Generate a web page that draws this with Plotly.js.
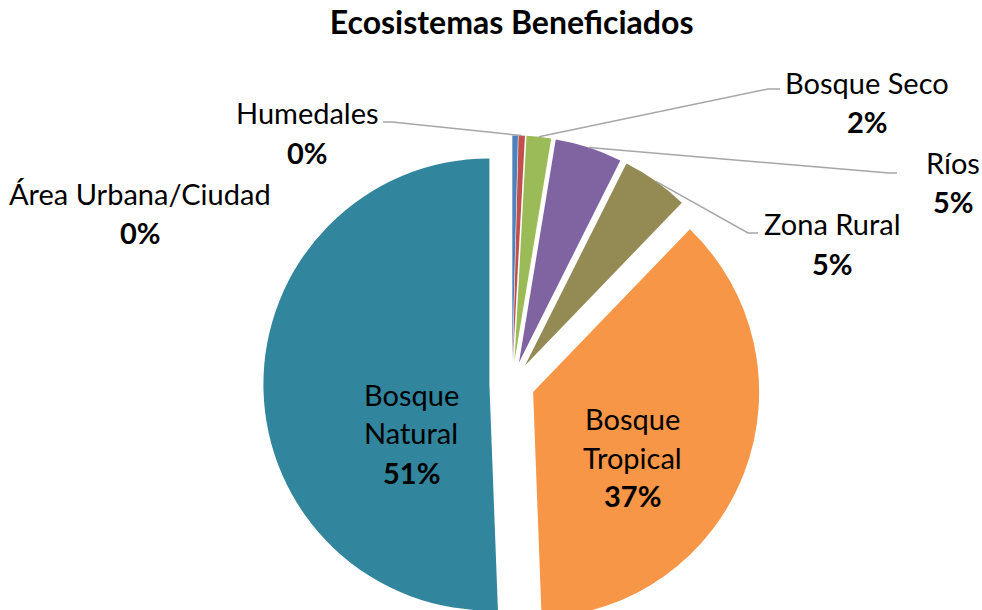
<!DOCTYPE html>
<html>
<head>
<meta charset="utf-8">
<script src="https://cdn.plot.ly/plotly-3.0.1.min.js"></script>
<style>
body { margin: 0; overflow: hidden; background: #fff; }
#chart { width: 982px; height: 660px; }
</style>
</head>
<body>
<div id="chart"></div>
<script>
var categorias = ['Área Urbana/Ciudad', 'Humedales', 'Bosque Seco', 'Ríos', 'Zona Rural', 'Bosque Tropical', 'Bosque Natural'];
var valores = [0.4, 0.45, 1.75, 4.8, 4.8, 37.2, 50.6];
var colores = ['#4F81BD', '#C0504D', '#9BBB59', '#8064A2', '#948A54', '#F79646', '#31859C'];

// layout only: label centres (px) and label end of each leader line
var W = 982, H = 660;
var cx = 512, cy = 384, radio = 226, pull = 0.1;
var posEtiqueta = [[140, 193], [307, 113], [867, 82], [953, 162], [832, 224], [632, 418], [411, 394]];
var dentro = [false, false, false, false, false, true, true];
var inicioLinea = [null, [383, 122, 392], [780, 89, 768], [897, 173, 889], [758, 233, 748], null, null];
var paso = 39;
var fuente = 'Lato, "Open Sans", sans-serif';

var total = valores.reduce(function(a, b) { return a + b; }, 0);

function px(x) { return x / W; }
function py(y) { return 1 - y / H; }

var anotaciones = [];
var formas = [];
var acumulado = 0;
for (var i = 0; i < categorias.length; i++) {
    var lineas = dentro[i] ? categorias[i].split(' ') : [categorias[i]];
    var pct = Math.round(valores[i] / total * 100) + '%';
    lineas.push('<b>' + pct + '</b>');
    for (var j = 0; j < lineas.length; j++) {
        anotaciones.push({
            x: px(posEtiqueta[i][0]), y: py(posEtiqueta[i][1] + j * paso),
            xref: 'paper', yref: 'paper', xanchor: 'center', yanchor: 'middle',
            text: lineas[j], showarrow: false,
            font: {family: fuente, size: 29, color: '#000'}
        });
    }

    // leader line goes to the middle of the slice's outer arc
    var medio = (acumulado + valores[i] / 2) / total * 2 * Math.PI;
    acumulado += valores[i];
    if (inicioLinea[i]) {
        var rr = radio * (1 + pull);
        var ex = cx + rr * Math.sin(medio);
        var ey = cy - rr * Math.cos(medio);
        var s = inicioLinea[i];
        formas.push({
            type: 'path', xref: 'paper', yref: 'paper',
            path: 'M ' + px(s[0]) + ' ' + py(s[1]) + ' L ' + px(s[2]) + ' ' + py(s[1]) + ' L ' + px(ex) + ' ' + py(ey),
            line: {color: '#A6A6A6', width: 1.5}
        });
    }
}

var ext = radio * (1 + pull);
var trace = {
    type: 'pie',
    labels: categorias,
    values: valores,
    sort: false,
    direction: 'clockwise',
    rotation: 0,
    pull: pull,
    marker: {colors: colores, line: {width: 0}},
    textinfo: 'none',
    hoverinfo: 'label+percent',
    domain: {
        x: [px(cx - ext), px(cx + ext)],
        y: [py(cy + ext), py(cy - ext)]
    }
};

var layout = {
    width: W,
    height: H,
    margin: {l: 0, r: 0, t: 0, b: 0},
    showlegend: false,
    paper_bgcolor: '#fff',
    title: {
        text: '<b>Ecosistemas Beneficiados</b>',
        font: {family: fuente, size: 32, color: '#000'},
        x: 0.521, xanchor: 'center',
        y: py(23), yanchor: 'middle', yref: 'container'
    },
    annotations: anotaciones,
    shapes: formas
};

Plotly.newPlot('chart', [trace], layout, {displayModeBar: false});
</script>
</body>
</html>
